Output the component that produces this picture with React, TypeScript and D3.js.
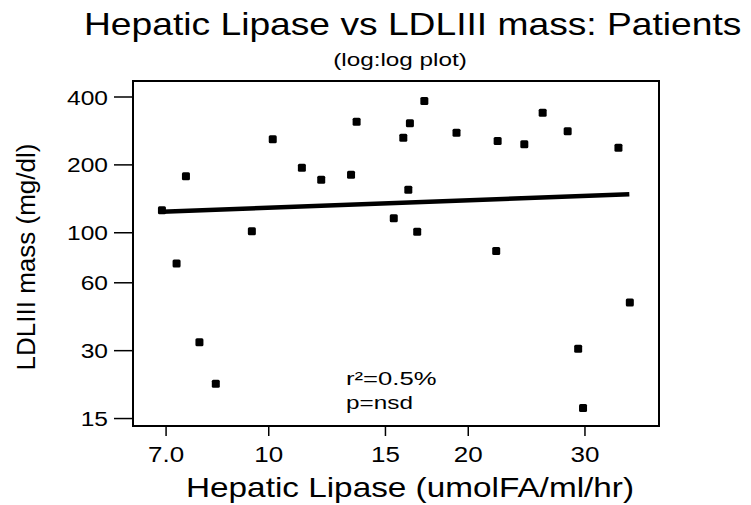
import React from 'react';
import * as d3 from 'd3';

// Hepatic lipase (umolFA/ml/hr) per patient
const hlValues = [6.9, 7.5, 7.26, 7.86, 8.32, 9.43, 10.14, 11.22, 12.0, 13.31, 13.57, 17.17, 16.33, 15.96, 19.2, 22.15, 24.3, 25.9, 28.25, 33.7, 16.24, 15.44, 16.75, 22.04, 35.06, 29.3, 29.8];
// LDLIII mass (mg/dl) per patient
const ldlValues = [126, 178, 73, 32.7, 21.4, 101.5, 260, 194, 172, 181, 311, 384, 306, 264, 278, 255, 247, 341, 282, 238, 155, 116, 101, 83, 49, 30.6, 16.7];
// regression line endpoints (log:log)
const fitX = [6.9, 35];
const fitY = [124, 148];
const xTicks = [7, 10, 15, 20, 30];
const xTickLabels = ['7.0', '10', '15', '20', '30'];
const yTicks = [15, 30, 60, 100, 200, 400];
const yTickLabels = ['15', '30', '60', '100', '200', '400'];

const W = 751;
const H = 505;
const left = 133;
const right = 659;
const top = 81;
const bottom = 426;
const FONT = '"Liberation Sans", Arial, Helvetica, sans-serif';

function SText({ x, y, sx = 1.18, size, anchor = 'middle', children, rotate = 0 }: any) {
  const tr = `translate(${x},${y})` + (rotate ? ` rotate(${rotate})` : '') + ` scale(${sx},1)`;
  return (
    <text transform={tr} textAnchor={anchor} fontSize={size} fontFamily={FONT} fill="#000">
      {children}
    </text>
  );
}

export default function App() {
  const x = d3.scaleLog().domain([6.24, 38.8]).range([left, right]);
  const y = d3.scaleLog().domain([13.9, 471]).range([bottom, top]);
  const line = d3.line<number>().x((d, i) => x(fitX[i])).y((d, i) => y(fitY[i]));
  const ms = 8;
  return (
    <svg width={W} height={H} style={{ position: 'absolute', left: 0, top: 0, background: '#fff' }}>
      <rect x={0} y={0} width={W} height={H} fill="#fff" />
      <SText x={84} y={35} size={31} anchor="start" sx={1.2}>Hepatic Lipase vs LDLIII mass: Patients</SText>
      <SText x={400} y={66} size={18} sx={1.35}>(log:log plot)</SText>

      {/* frame */}
      <rect x={left} y={top} width={right - left} height={bottom - top} fill="none" stroke="#000" strokeWidth={2} />

      {/* y axis */}
      {yTicks.map((t, i) => (
        <g key={'y' + t}>
          <line x1={114} x2={left} y1={y(t)} y2={y(t)} stroke="#000" strokeWidth={1.5} />
          <SText x={108} y={y(t) + 7.5} size={21} anchor="end" sx={1.17}>{yTickLabels[i]}</SText>
        </g>
      ))}
      {/* x axis */}
      {xTicks.map((t, i) => (
        <g key={'x' + t}>
          <line x1={x(t)} x2={x(t)} y1={bottom} y2={bottom + 10} stroke="#000" strokeWidth={1.5} />
          <SText x={x(t)} y={462} size={22} sx={1.18}>{xTickLabels[i]}</SText>
        </g>
      ))}

      <SText x={410} y={497} size={28} sx={1.19}>Hepatic Lipase (umolFA/ml/hr)</SText>
      <SText x={35} y={257} size={26} sx={1.0} rotate={-90}>LDLIII mass (mg/dl)</SText>

      {/* regression line */}
      <path d={line([0, 1]) || ''} stroke="#000" strokeWidth={4.5} fill="none" />

      {/* points */}
      {hlValues.map((v, i) => (
        <rect key={'p' + i} x={x(v) - ms / 2} y={y(ldlValues[i]) - ms / 2} width={ms} height={ms} rx={1.5} fill="#000" />
      ))}

      <SText x={346} y={385} size={19} anchor="start" sx={1.35}>r²=0.5%</SText>
      <SText x={346} y={409} size={19} anchor="start" sx={1.28}>p=nsd</SText>
    </svg>
  );
}
